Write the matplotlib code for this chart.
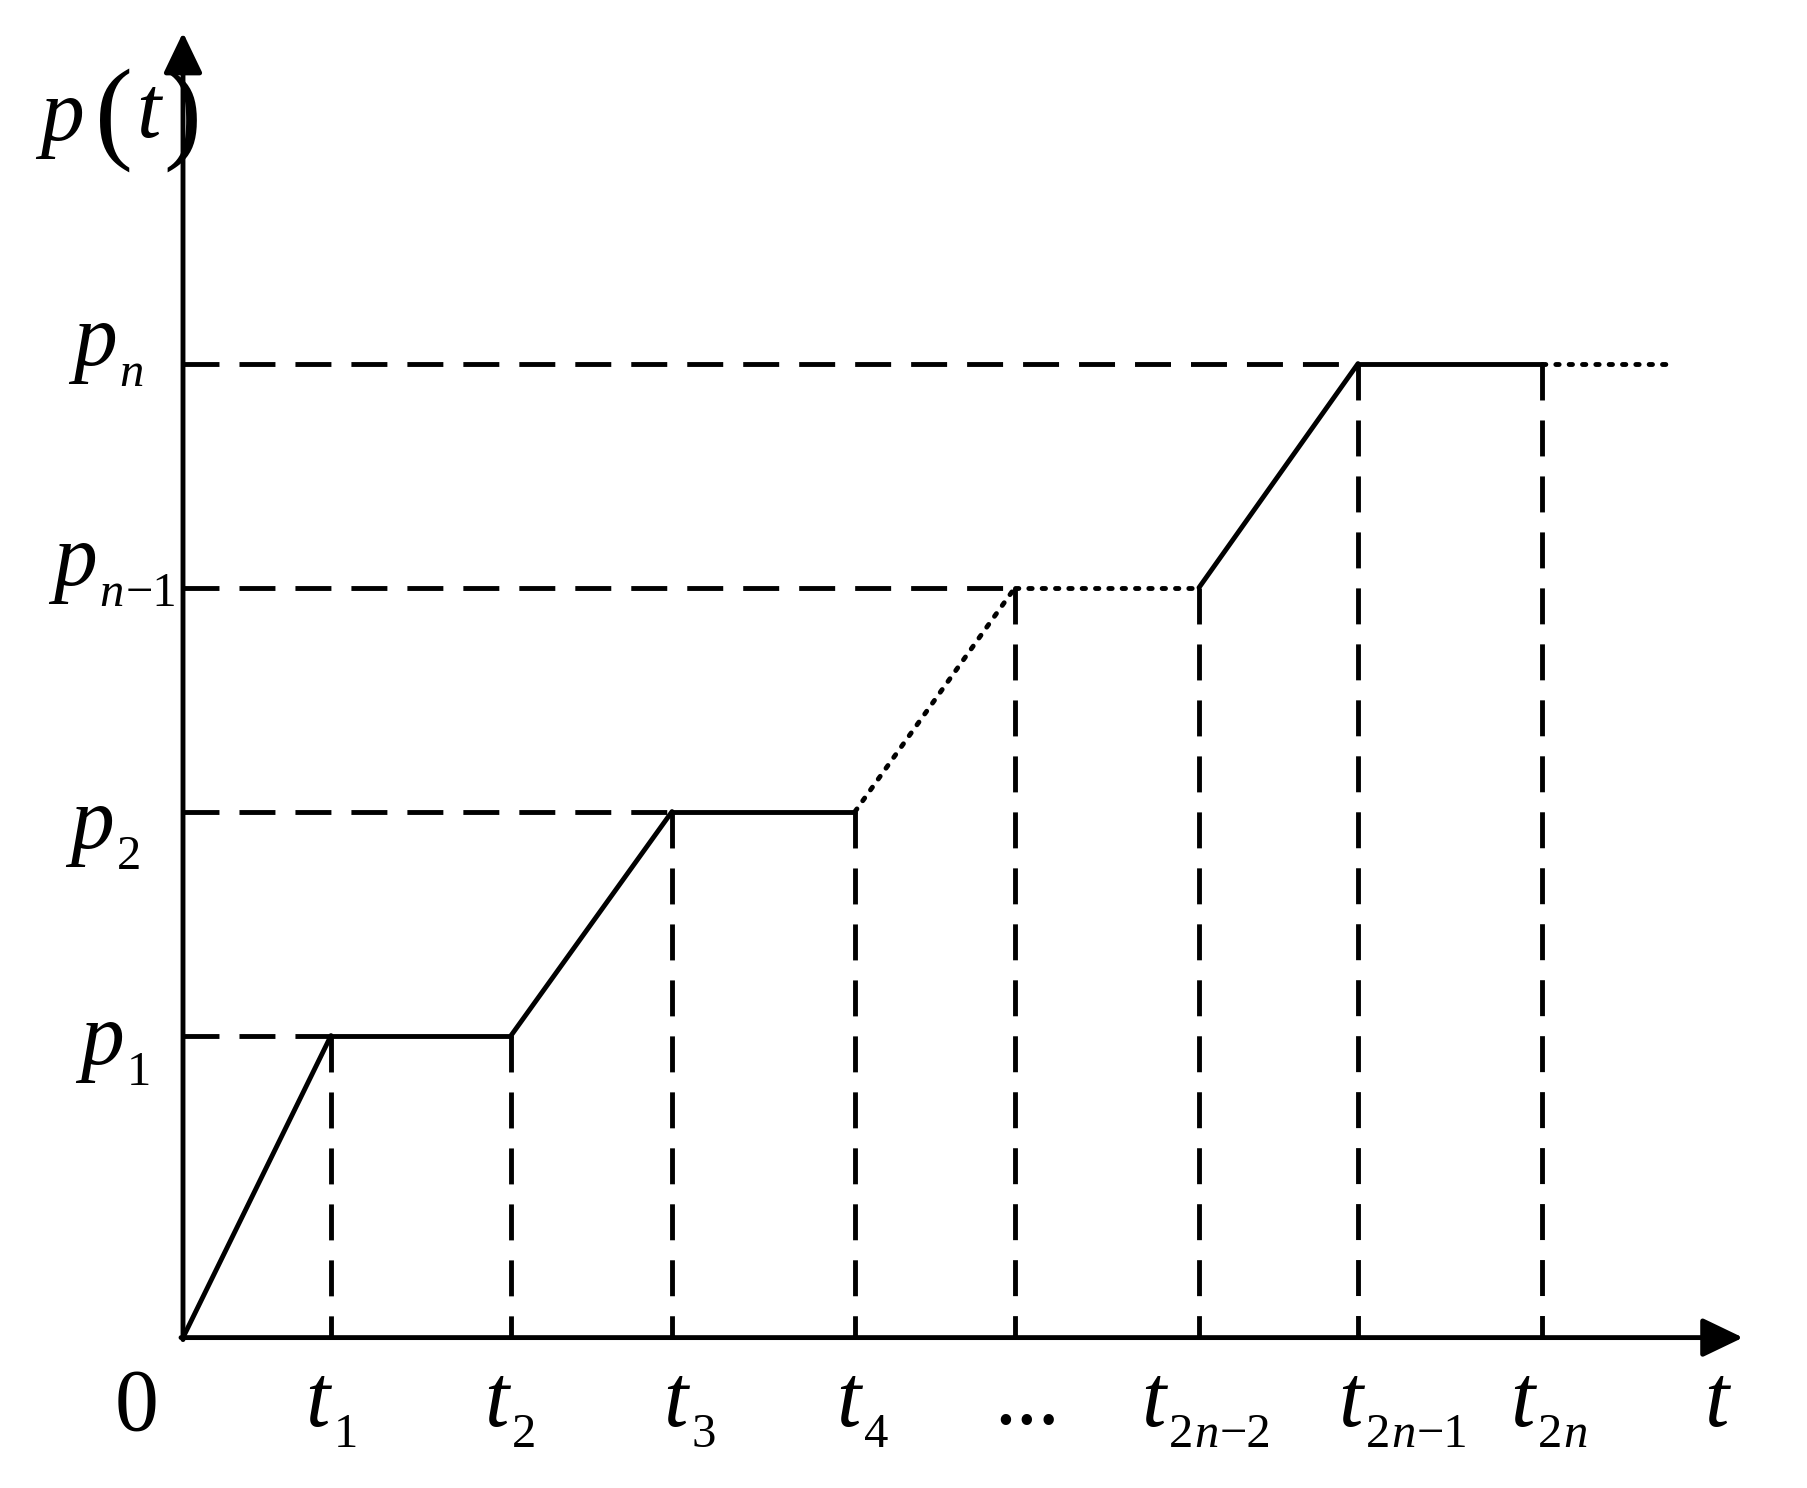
import matplotlib
matplotlib.use('Agg')
import matplotlib.pyplot as plt
from matplotlib.transforms import IdentityTransform

plt.rcParams['lines.scale_dashes'] = False

W, H, DPI = 1808, 1488, 100

# ---- schematic data (time instants and power levels) ----
t_ticks = [1.48, 3.28, 4.89, 6.72, 8.32, 10.16, 11.75, 13.59]
p_levels = [3.02, 5.26, 7.50, 9.74]
# curve p(t) through the instants
curve_t = [0.0, 1.48, 3.28, 4.89, 6.72, 8.32, 10.16, 11.75, 13.59, 14.89]
curve_p = [0.0, 3.02, 3.02, 5.26, 5.26, 7.50, 7.50, 9.74, 9.74, 9.74]
# segment styles between successive curve points
curve_style = ['solid', 'solid', 'solid', 'solid', 'dotted', 'dotted',
               'solid', 'solid', 'dotted']
# value of the curve at each tick instant
tick_values = [3.02, 3.02, 5.26, 5.26, 7.50, 7.50, 9.74, 9.74]
# instant where each level is first reached
level_reach = [1.48, 4.89, 8.32, 11.75]
x_axis_end = 15.60
y_axis_end = 13.05

LW = 3.5
DASH = (0, (25.9, 14.4))
DOT = (0, (2.4, 7.2))

fig = plt.figure(figsize=(W / DPI, H / DPI), dpi=DPI)
ox, oy = 183, 1337.6
ax = fig.add_axes([ox / W, (H - oy) / H, (W - ox) / W, oy / H])
ax.set_xlim(0, (W - ox) / 100)
ax.set_ylim(0, oy / 100)
ax.axis('off')

# dashed guide lines
for lev, tr in zip(p_levels, level_reach):
    ax.plot([0, tr], [lev, lev], color='k', lw=LW, linestyle=DASH,
            dash_capstyle='butt', clip_on=False)
for tk, val in zip(t_ticks, tick_values):
    ax.plot([tk, tk], [val, 0], color='k', lw=LW, linestyle=DASH,
            dash_capstyle='butt', clip_on=False)

# the curve
for i, st in enumerate(curve_style):
    xs = curve_t[i:i + 2]
    ys = curve_p[i:i + 2]
    if st == 'solid':
        ax.plot(xs, ys, color='k', lw=LW, solid_capstyle='round', clip_on=False)
    else:
        ax.plot(xs, ys, color='k', lw=LW, linestyle=DOT,
                dash_capstyle='round', clip_on=False)

# axes with arrows
arrow = dict(arrowstyle='-|>,head_length=25,head_width=12', mutation_scale=1,
             lw=LW, color='k', shrinkA=0, shrinkB=0)
ax.annotate('', xy=(x_axis_end, 0), xytext=(-0.02, 0), arrowprops=arrow,
            annotation_clip=False)
ax.annotate('', xy=(0, y_axis_end), xytext=(0, -0.02), arrowprops=arrow,
            annotation_clip=False)

# ---- text ----
renderer = fig.canvas.get_renderer()
FAM = 'Liberation Serif'
MAIN, SUB = 63, 35


def put(s, x, base, size, italic):
    t = fig.text(x, H - base, s, transform=IdentityTransform(), ha='left',
                 va='baseline', fontsize=size, family=FAM,
                 style='italic' if italic else 'normal', color='k')
    return t.get_window_extent(renderer)


def seq(pieces, x, base):
    for s, it, size, drop, gap in pieces:
        x = x + gap
        ext = put(s, x, base + drop, size, it)
        x = ext.x1


def sub_pieces(parts, drop, first_gap):
    out = []
    for k, (s, it) in enumerate(parts):
        out.append((s, it, SUB, drop, first_gap if k == 0 else 1))
    return out


# y-axis title p(t)
put('p', 40, 140, MAIN, True)
e1 = put('(', 95, 148, 82, False)
e2 = put('t', e1.x1 + 3, 137, MAIN, True)
put(')', e2.x1 + 3, 148, 82, False)

# origin
put('0', 115, 1430, MAIN, False)

# x tick labels
t_subs = [[('1', False)], [('2', False)], [('3', False)], [('4', False)],
          None,
          [('2', False), ('n', True), ('\u22122', False)],
          [('2', False), ('n', True), ('\u22121', False)],
          [('2', False), ('n', True)]]
t_left = [305, 484, 663, 836, 994, 1141, 1338, 1510]
for subs, xl in zip(t_subs, t_left):
    if subs is None:
        put('...', xl, 1424, MAIN, False)
        continue
    pieces = [('t', True, MAIN, 0, 0)] + sub_pieces(subs, 21, 4)
    seq(pieces, xl, 1426)

put('t', 1704, 1426, MAIN, True)

# y tick labels
p_subs = [[('1', False)], [('2', False)], [('n', True), ('\u22121', False)],
          [('n', True)]]
p_left = [80, 70, 53, 73]
p_base = [1064, 848, 585, 365]
for subs, xl, b in zip(p_subs, p_left, p_base):
    pieces = [('p', True, MAIN, 0, 0)] + sub_pieces(subs, 21, 3)
    seq(pieces, xl, b)

fig.savefig('out.png', dpi=DPI, facecolor='white')
